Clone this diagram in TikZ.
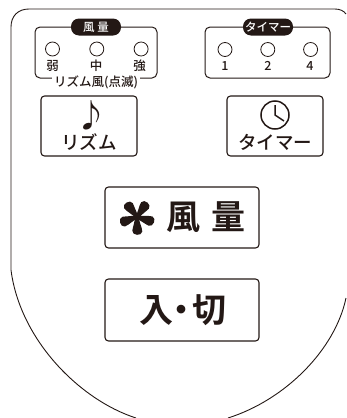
\documentclass[tikz,border=0pt]{standalone}
\usepackage{fontspec}
\newfontfamily\cjk{Noto Sans CJK JP Medium}
\newfontfamily\cjkbold{Noto Sans CJK JP Bold}
\usetikzlibrary{positioning}
\definecolor{ink}{HTML}{231815}
\tikzstyle{panel} = [rectangle, rounded corners=5pt, line width=1pt, inner sep=0pt, draw=ink]
\tikzstyle{button} = [rectangle, rounded corners=3.5pt, line width=1.1pt, inner sep=0pt, draw=ink]
\tikzstyle{pill} = [rectangle, rounded corners=8pt, fill=ink, inner sep=0pt, minimum width=50pt, minimum height=17pt, text=white, font=\cjk\fontsize{11.5}{12}\selectfont]
\tikzstyle{led} = [circle, line width=0.8pt, inner sep=0pt, minimum size=14pt, draw=ink]
\tikzstyle{small} = [inner sep=0pt, text=ink, font=\cjk\fontsize{12.5}{13}\selectfont]
\tikzstyle{medium} = [inner sep=0pt, text=ink, font=\cjk\fontsize{18.5}{20}\selectfont]
\tikzstyle{large} = [inner sep=0pt, text=ink, font=\cjkbold\fontsize{34}{36}\selectfont]
\begin{document}
\begin{tikzpicture}[x=1pt, y=-1pt]
		\useasboundingbox (0,0) rectangle (346,418);
		% body of the remote
		\draw [ink, line width=0.9pt] (136,418) .. controls (80,400) and (20,340) .. (11,270) -- (11,27) .. controls (11,16) and (18,9) .. (29,9) -- (335,9) .. controls (340,9) and (344,11) .. (346,14);
		\draw [ink, line width=0.9pt] (228,418) .. controls (285,400) and (335,350) .. (346,298);
		% wind panel
		\node (WindPanel) [panel, minimum width=122pt, minimum height=51pt] at (96,52.5) {};
		\node (WindTitle) [pill] at (96,27) {風 量};
		\node (WindBlink) [small, fill=white, inner xsep=2pt] at (96,82) {リズム風(点滅)};
		\node (LedWeak) [led] at (52.5,49) {};
		\node (LedMid) [led, right = 29.5pt of LedWeak] {};
		\node (LedStrong) [led, right = 29.5pt of LedMid] {};
		\node (LabelWeak) [small] at (52.5,66) {弱};
		\node (LabelMid) [small] at (96,66) {中};
		\node (LabelStrong) [small] at (139.5,66) {強};
		% timer panel
		\node (TimerPanel) [panel, minimum width=125pt, minimum height=51pt] at (267.5,52.5) {};
		\node (TimerTitle) [pill] at (268,27) {タイマー};
		\node (LedOne) [led] at (225,49.5) {};
		\node (LedTwo) [led, right = 28pt of LedOne] {};
		\node (LedFour) [led, right = 28pt of LedTwo] {};
		\node (LabelOne) [small] at (225,66) {1};
		\node (LabelTwo) [small] at (268,66) {2};
		\node (LabelFour) [small] at (310,66) {4};
		% small buttons
		\node (Rhythm) [button, minimum width=96pt, minimum height=60pt] at (89,126) {};
		\node (RhythmNote) [medium, font=\cjk\fontsize{32}{34}\selectfont] at (91,115) {♪};
		\node (RhythmText) [medium] at (89,142) {リズム};
		\node (Timer) [button, minimum width=96pt, minimum height=60pt] at (275,126) {};
		\node (TimerClock) [circle, line width=1.5pt, inner sep=0pt, minimum size=28pt, draw=ink] at (275,115) {};
		\node (TimerText) [medium] at (275,142) {タイマー};
		\draw [ink, line width=1.5pt] (TimerClock.center) ++(0,-10) -- (TimerClock.center) -- +(9,6);
		% large buttons
		\node (Wind) [button, minimum width=154pt, minimum height=61pt] at (182,217.5) {};
		\coordinate (Fan) at (137,217);
		\foreach \angle in {-95,-23,49,121,193} {
			\begin{scope}[shift={(Fan)}, rotate=\angle]
				\fill [ink] (-1,-1.8) .. controls (5,-2) and (9,-6) .. (14,-6.5) .. controls (19,-6.5) and (19,3.5) .. (14,3.5) .. controls (9,3) and (5,1.8) .. (-1,1.8) -- cycle;
			\end{scope}
		}
		\node (WindA) [large] at (183,217) {風};
		\node (WindB) [large] at (228,217) {量};
		\node (Power) [button, minimum width=154pt, minimum height=62pt] at (182,310) {};
		\node (PowerText) [large] at (182.5,310) {入\kern-8.5pt・\kern-6.5pt切};
\end{tikzpicture}
\end{document}
